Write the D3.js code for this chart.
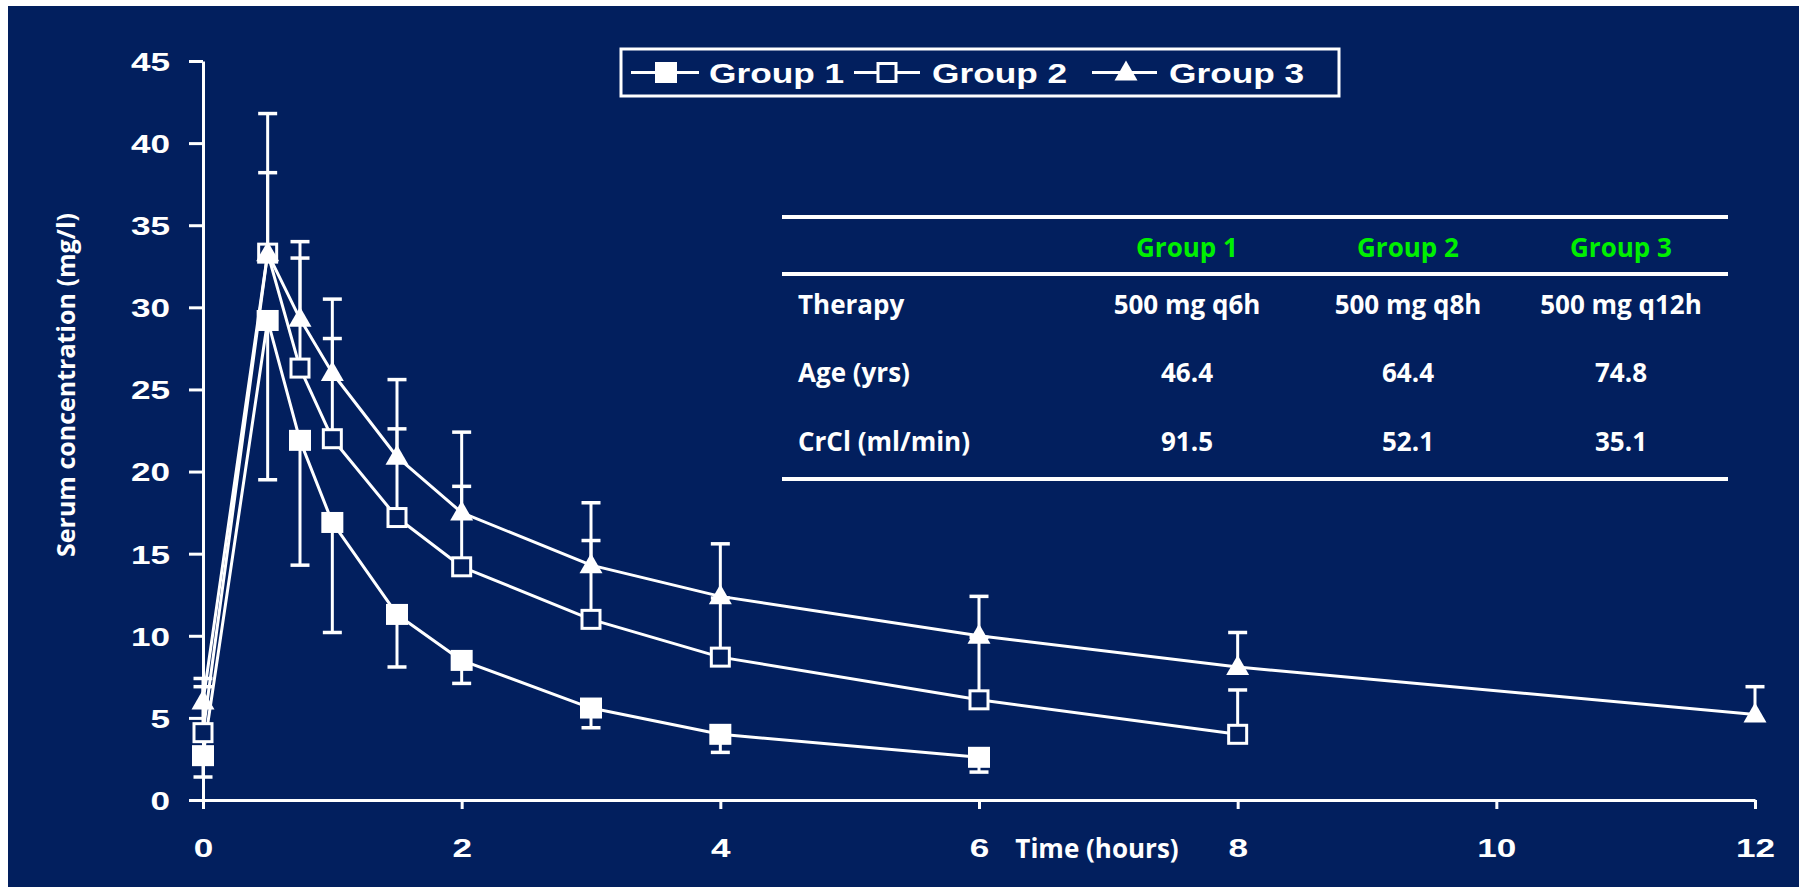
<!DOCTYPE html>
<html>
<head>
<meta charset="utf-8">
<script src="https://cdn.jsdelivr.net/npm/d3@7"></script>
<style>
  html, body { margin: 0; padding: 0; background: #ffffff; }
  svg { display: block; }
</style>
</head>
<body>
<svg id="chart" width="1799" height="887"></svg>
<script>
// ---------------- DATA ----------------
const groupNames = ["Group 1", "Group 2", "Group 3"];
const xTicks = [0, 2, 4, 6, 8, 10, 12];
const yTicks = [0, 5, 10, 15, 20, 25, 30, 35, 40, 45];

const times1 = [0, 0.5, 0.75, 1, 1.5, 2, 3, 4, 6];
const conc1  = [2.7, 29.2, 21.9, 16.9, 11.3, 8.5, 5.6, 4.0, 2.6];
const err1   = [1.4, 19.5, 14.3, 10.2, 8.1, 7.1, 4.4, 2.9, 1.7];   // lower bar ends

const times2 = [0, 0.5, 0.75, 1, 1.5, 2, 3, 4, 6, 8];
const conc2  = [4.1, 33.3, 26.3, 22.0, 17.2, 14.2, 11.0, 8.7, 6.1, 4.0];
const err2   = [6.9, 38.2, 33.0, 28.1, 22.6, 19.1, 15.8, 12.3, 9.9, 6.7]; // upper bar ends

const times3 = [0, 0.5, 0.75, 1, 1.5, 2, 3, 4, 6, 8, 12];
const conc3  = [6.0, 33.3, 29.3, 26.0, 20.9, 17.5, 14.3, 12.4, 10.0, 8.1, 5.2];
const err3   = [7.4, 41.8, 34.0, 30.5, 25.6, 22.4, 18.1, 15.6, 12.4, 10.2, 6.9]; // upper bar ends

const tableCols = ["Group 1", "Group 2", "Group 3"];
const tableRowLabels = ["Therapy", "Age (yrs)", "CrCl (ml/min)"];
const tableTherapy = ["500 mg q6h", "500 mg q8h", "500 mg q12h"];
const tableAge = ["46.4", "64.4", "74.8"];
const tableCrCl = ["91.5", "52.1", "35.1"];

const yTitle = "Serum concentration (mg/l)";
const xTitle = "Time (hours)";

// ---------------- SETUP ----------------
const NAVY = "#021f5e";
const WHITE = "#ffffff";
const GREEN = "#00f000";
const tickFont = "'Liberation Sans', Arial, sans-serif";
const textFont = "'Open Sans', 'Noto Sans', sans-serif";

const svg = d3.select("#chart");
svg.append("rect").attr("x", 8).attr("y", 6).attr("width", 1799 - 8).attr("height", 887 - 6).attr("fill", NAVY);

const x = d3.scaleLinear().domain([0, 12]).range([203, 1755]);
const y = d3.scaleLinear().domain([0, 45]).range([800, 61]);

// ---------------- AXES ----------------
const yAxis = svg.append("g").attr("transform", `translate(${x(0)},0)`)
  .call(d3.axisLeft(y).tickValues(yTicks).tickSize(14).tickSizeOuter(0).tickPadding(0));
const xAxis = svg.append("g").attr("transform", `translate(0,${y(0)})`)
  .call(d3.axisBottom(x).tickValues(xTicks).tickSize(9).tickSizeOuter(0));

[yAxis, xAxis].forEach(g => {
  g.select(".domain").attr("stroke", WHITE).attr("stroke-width", 3);
  g.selectAll(".tick line").attr("stroke", WHITE).attr("stroke-width", 3);
  g.selectAll(".tick text").attr("fill", WHITE)
    .style("font-family", tickFont).style("font-weight", "bold").style("font-size", "26px");
});
const sx = 1.35;
yAxis.selectAll(".tick text")
  .attr("x", -33 / sx).attr("dy", "0.36em")
  .attr("transform", `scale(${sx},1)`);
xAxis.selectAll(".tick text")
  .attr("y", 57).attr("dy", null)
  .attr("transform", `scale(${sx},1)`);

// titles
svg.append("text")
  .attr("transform", `translate(75,385) rotate(-90)`)
  .attr("text-anchor", "middle")
  .attr("fill", WHITE).style("font-family", textFont).style("font-weight", "bold").style("font-size", "25px")
  .text(yTitle);
svg.append("text")
  .attr("x", 1097).attr("y", 858).attr("text-anchor", "middle")
  .attr("fill", WHITE).style("font-family", textFont).style("font-weight", "bold").style("font-size", "26px")
  .text(xTitle);

// ---------------- SERIES ----------------
const series = [
  { t: times1, v: conc1, e: err1, sym: "filled" },
  { t: times2, v: conc2, e: err2, sym: "open" },
  { t: times3, v: conc3, e: err3, sym: "tri" }
];
const line = d3.line().x(d => x(d[0])).y(d => y(d[1]));
const capW = 9.5;

const plot = svg.append("g");
series.forEach(s => {
  const pts = s.t.map((t, i) => [t, s.v[i], s.e[i]]);
  plot.append("path").attr("d", line(pts)).attr("fill", "none")
    .attr("stroke", WHITE).attr("stroke-width", 3).attr("stroke-linejoin", "round");
  const eb = plot.append("g");
  pts.forEach(p => {
    eb.append("line").attr("x1", x(p[0])).attr("x2", x(p[0])).attr("y1", y(p[1])).attr("y2", y(p[2]))
      .attr("stroke", WHITE).attr("stroke-width", 3);
    eb.append("line").attr("x1", x(p[0]) - capW).attr("x2", x(p[0]) + capW).attr("y1", y(p[2])).attr("y2", y(p[2]))
      .attr("stroke", WHITE).attr("stroke-width", 3.5);
  });
});

function drawSymbol(g, sym, cx, cy) {
  if (sym === "filled") {
    g.append("rect").attr("x", cx - 11).attr("y", cy - 10.5).attr("width", 22).attr("height", 21).attr("fill", WHITE);
  } else if (sym === "open") {
    g.append("rect").attr("x", cx - 9).attr("y", cy - 9).attr("width", 18).attr("height", 18)
      .attr("fill", NAVY).attr("stroke", WHITE).attr("stroke-width", 3);
  } else {
    g.append("path").attr("transform", `translate(${cx},${cy})`)
      .attr("d", "M0,-12L11.5,8L-11.5,8Z").attr("fill", WHITE);
  }
}
series.forEach(s => {
  const g = plot.append("g");
  s.t.forEach((t, i) => drawSymbol(g, s.sym, x(t), y(s.v[i])));
});

// ---------------- LEGEND ----------------
const legend = svg.append("g");
legend.append("rect").attr("x", 621).attr("y", 49).attr("width", 718).attr("height", 47)
  .attr("fill", "none").attr("stroke", WHITE).attr("stroke-width", 3);
const legItems = [
  { x1: 631, x2: 699, cx: 666, tx: 709, sym: "filled" },
  { x1: 854, x2: 920, cx: 887, tx: 932, sym: "open" },
  { x1: 1092, x2: 1157, cx: 1126, tx: 1169, sym: "tri" }
];
const legY = 72.5;
groupNames.forEach((name, i) => {
  const it = legItems[i];
  legend.append("line").attr("x1", it.x1).attr("x2", it.x2).attr("y1", legY).attr("y2", legY)
    .attr("stroke", WHITE).attr("stroke-width", 3);
  drawSymbol(legend, it.sym, it.cx, legY);
  legend.append("text").attr("transform", `translate(${it.tx},${legY + 10}) scale(1.26,1)`)
    .attr("fill", WHITE).style("font-family", tickFont).style("font-weight", "bold").style("font-size", "28px")
    .text(name);
});

// ---------------- TABLE ----------------
const table = svg.append("g");
const tX1 = 782, tX2 = 1728;
[217, 274, 479].forEach(ly => {
  table.append("line").attr("x1", tX1).attr("x2", tX2).attr("y1", ly).attr("y2", ly)
    .attr("stroke", WHITE).attr("stroke-width", 4);
});
const colX = [1187, 1408, 1621];
const rowY = [305, 373, 442];
const txt = (sel) => sel.style("font-family", textFont).style("font-weight", "bold").style("font-size", "26px");
tableCols.forEach((c, i) => {
  txt(table.append("text").attr("x", colX[i]).attr("y", 248).attr("dy", "0.36em")
    .attr("text-anchor", "middle").attr("fill", GREEN)).text(c);
});
const rows = [tableTherapy, tableAge, tableCrCl];
tableRowLabels.forEach((lab, r) => {
  txt(table.append("text").attr("x", 798).attr("y", rowY[r]).attr("dy", "0.36em").attr("fill", WHITE)).text(lab);
  rows[r].forEach((v, i) => {
    txt(table.append("text").attr("x", colX[i]).attr("y", rowY[r]).attr("dy", "0.36em")
      .attr("text-anchor", "middle").attr("fill", WHITE)).text(v);
  });
});
</script>
</body>
</html>
